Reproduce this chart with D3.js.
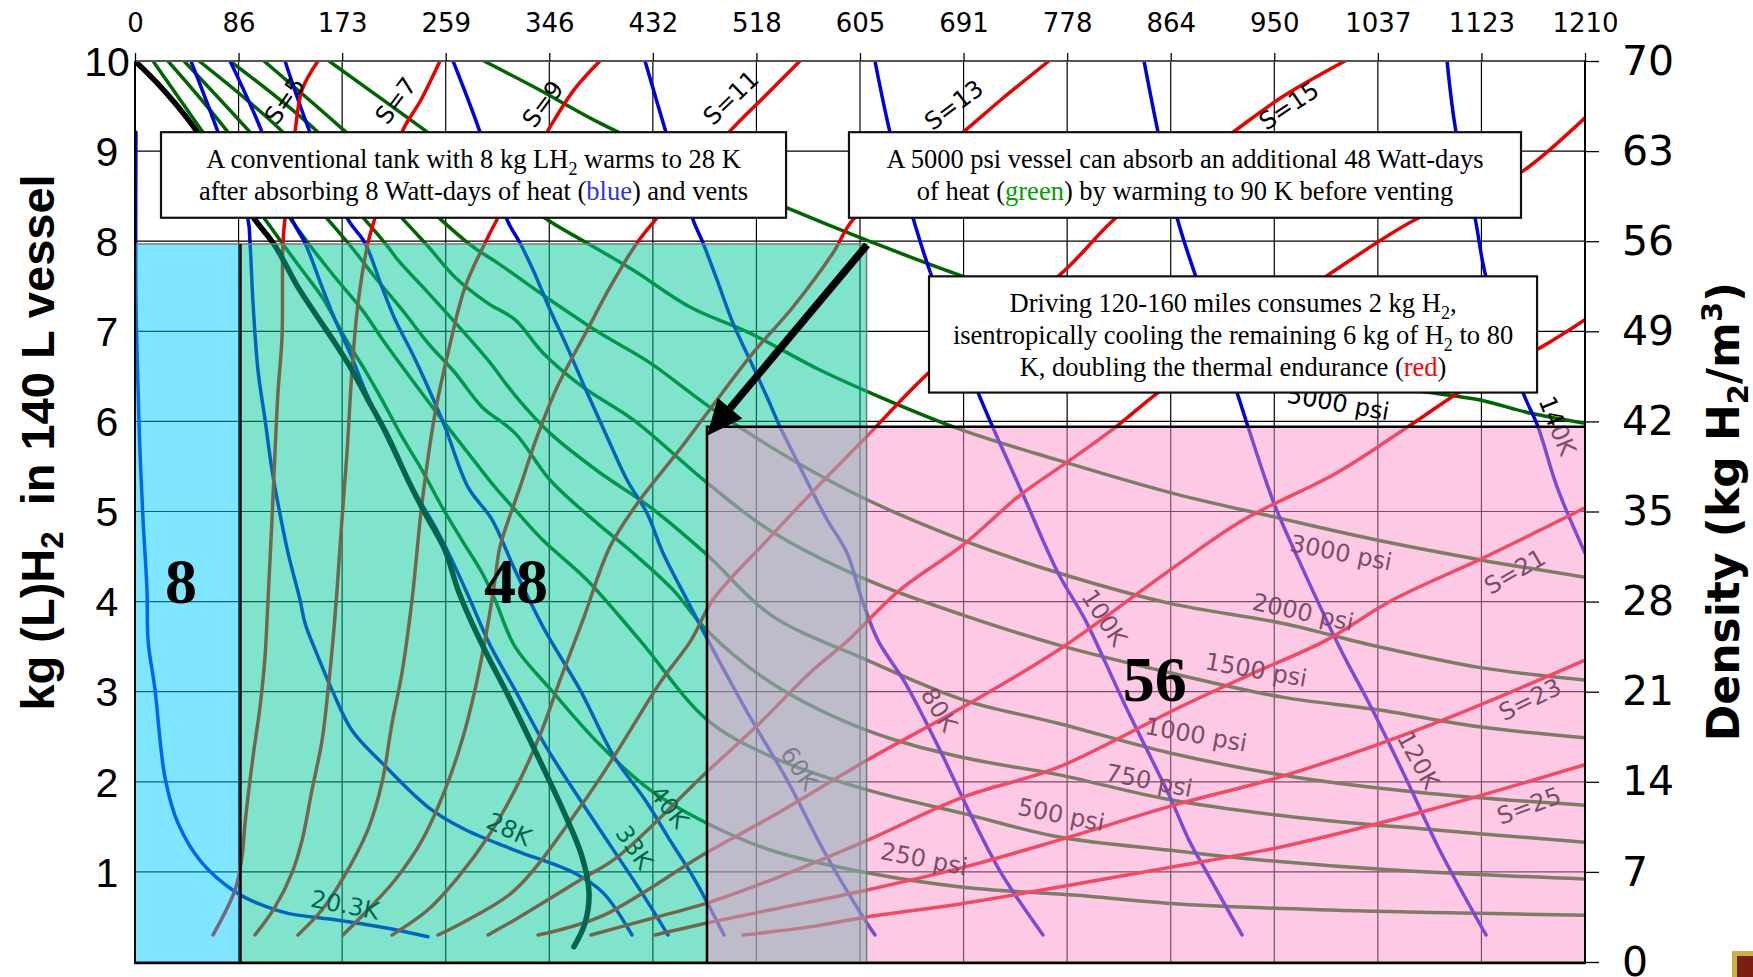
<!DOCTYPE html>
<html>
<head>
<meta charset="utf-8">
<script src="https://cdn.jsdelivr.net/npm/d3@7"></script>
<style>
  body { margin: 0; background: #fff; }
  svg { display: block; }
</style>
</head>
<body>
<div id="wrapper"></div>
<script>
// ---- axis values ----
const topTickLabels = ["0","86","173","259","346","432","518","605","691","778","864","950","1037","1123","1210"];
const kgTicks = [1,2,3,4,5,6,7,8,9,10];
const densityTicks = [0,7,14,21,28,35,42,49,56,63,70];

// ---- isotherms (blue) [x on top axis, kg] ----
const t20 = [[0.8,9.21],[0.8,7.35],[2.5,6.38],[4.2,5.65],[6.7,4.91],[10.0,4.13],[10.9,3.57],[16.7,3.02],[25.0,2.05],[35.9,1.54],[55.9,1.10],[83.5,0.78],[102.6,0.65],[127.7,0.54],[166.9,0.47],[208.6,0.38],[244.5,0.28]];
const t28 = [[46.7,10],[69.3,9.21],[94.3,8.24],[96.0,7.98],[98.5,7.31],[102.6,6.57],[108.5,6.02],[114.3,5.46],[119.3,5.09],[127.7,4.54],[137.7,4.02],[141.9,3.76],[152.7,3.39],[164.4,3.02],[181.1,2.57],[206.1,2.21],[244.5,1.72],[275.4,1.47],[317.1,1.24],[366.3,0.99],[390.5,0.77],[414.7,0.30]];
const t33 = [[79.3,10],[106.0,9.21],[131.0,8.24],[141.9,7.98],[156.1,7.49],[166.9,7.13],[179.4,6.76],[192.8,6.32],[206.1,5.94],[219.5,5.57],[233.7,5.21],[250.4,4.83],[264.5,4.46],[279.6,4.02],[296.2,3.52],[317.1,3.02],[342.1,2.41],[371.4,1.80],[396.4,1.30],[421.4,0.80],[444.8,0.30]];
const t40 = [[125.2,10],[146.0,9.21],[177.8,8.24],[191.9,7.98],[206.1,7.49],[217.0,7.13],[231.2,6.76],[244.5,6.38],[258.7,5.94],[277.9,5.27],[297.9,4.91],[317.1,4.35],[342.1,3.68],[371.4,3.02],[399.7,2.28],[425.6,1.80],[446.5,1.35],[467.3,0.91],[491.5,0.30]];
const t60 = [[265.4,10],[287.9,9.21],[310.4,8.24],[321.3,7.98],[332.2,7.68],[346.3,7.24],[360.5,6.83],[377.2,6.32],[393.9,5.83],[410.6,5.35],[427.3,4.98],[440.6,4.54],[460.6,4.02],[478.2,3.57],[511.5,2.76],[544.1,2.02],[575.8,1.21],[607.5,0.50],[617.5,0.30]];
const t80 = [[425.6,10],[443.1,9.21],[465.6,8.24],[474.0,7.98],[485.7,7.57],[499.0,7.09],[513.2,6.68],[527.4,6.27],[538.2,5.94],[549.1,5.65],[563.3,5.27],[577.5,4.91],[594.2,4.54],[606.7,4.02],[620.0,3.57],[642.6,3.10],[671.8,2.35],[696.8,1.65],[722.7,0.99],[757.7,0.30]];
const t100 = [[617.5,10],[630.0,9.21],[649.2,8.26],[665.1,7.60],[703.5,6.32],[719.3,5.83],[741.9,5.16],[770.2,4.32],[792.8,3.80],[826.2,2.85],[863.7,1.83],[879.6,1.35],[894.6,0.99],[923.8,0.30]];
const t120 = [[842.0,10],[853.7,9.21],[869.6,8.26],[885.4,7.60],[919.6,6.32],[928.8,5.94],[950.5,5.09],[972.2,4.43],[1006.4,3.46],[1031.4,2.83],[1062.3,1.99],[1087.3,1.28],[1127.4,0.30]];
const t140 = [[1094.9,10],[1102.4,9.21],[1118.2,8.26],[1127.4,7.60],[1158.3,6.32],[1170.8,5.94],[1186.7,5.27],[1210,4.54]];

// ---- saturation curve (black) ----
const saturation = [[0,10],[21.7,9.71],[46.7,9.31],[72.6,8.79],[100.1,8.24],[116.8,7.95],[136.0,7.49],[150.2,7.20],[166.9,6.87],[181.1,6.57],[194.4,6.24],[211.1,5.83],[227.8,5.35],[242.0,4.98],[258.7,4.57],[269.5,4.13],[281.2,3.76],[294.6,3.39],[312.1,2.94],[340.5,2.16],[359.7,1.61],[373.0,1.17],[378.9,0.77],[375.5,0.43],[366.3,0.17]];

// ---- isobars (green) ----
const p250 = [[15.0,10],[56.7,9.21],[122.7,7.98],[139.4,7.68],[156.1,7.38],[166.9,7.13],[177.8,6.87],[191.9,6.57],[206.1,6.24],[222.8,5.83],[239.5,5.46],[256.2,5.05],[272.9,4.68],[289.6,4.32],[300.4,4.02],[317.1,3.50],[347.2,3.02],[388.0,2.41],[429.8,1.91],[477.3,1.54],[530.7,1.24],[610.9,0.99],[691.0,0.83],[786.1,0.74],[863.7,0.65],[988.0,0.58],[1121.6,0.54],[1210,0.52]];
const p500 = [[27.5,10],[77.6,9.21],[144.4,7.98],[166.9,7.60],[189.4,7.24],[208.6,6.87],[231.2,6.46],[256.2,6.02],[277.9,5.65],[300.4,5.27],[317.1,5.02],[340.5,4.68],[377.2,4.24],[421.4,3.57],[477.3,2.69],[530.7,2.28],[610.9,1.91],[691.0,1.65],[770.2,1.39],[863.7,1.24],[925.5,1.15],[1049.8,1.02],[1210,0.92]];
const p750 = [[40.9,10],[96.0,9.21],[177.8,7.98],[200.3,7.60],[222.8,7.24],[244.5,6.87],[267.0,6.54],[289.6,6.16],[317.1,5.87],[346.3,5.35],[382.2,4.91],[415.6,4.54],[449.0,4.13],[477.3,3.68],[530.7,3.10],[610.9,2.57],[691.0,2.27],[770.2,2.08],[863.7,1.80],[966.4,1.61],[1080.7,1.47],[1210,1.33]];
const p1000 = [[53.4,10],[123.5,9.21],[208.6,7.98],[219.5,7.79],[244.5,7.43],[267.0,7.10],[294.6,6.68],[317.1,6.29],[346.3,5.87],[388.0,5.43],[429.8,5.05],[477.3,4.52],[530.7,3.85],[610.9,3.35],[691.0,2.91],[770.2,2.65],[863.7,2.32],[968.9,2.05],[1080.7,1.87],[1210,1.74]];
const p1500 = [[79.3,10],[152.7,9.21],[242.0,7.98],[267.0,7.60],[294.6,7.31],[317.1,7.13],[340.5,6.76],[373.9,6.38],[415.6,6.02],[477.3,5.32],[529.9,4.79],[610.9,4.24],[691.0,3.85],[770.2,3.52],[863.7,3.21],[957.2,2.94],[1037.3,2.80],[1121.6,2.61],[1210,2.49]];
const p2000 = [[107.6,10],[174.4,9.23],[277.9,7.98],[304.6,7.74],[346.3,7.35],[388.0,6.98],[429.8,6.65],[477.3,6.18],[521.6,5.79],[563.3,5.46],[610.9,5.13],[691.0,4.68],[770.2,4.32],[863.7,3.98],[957.2,3.76],[1037.3,3.50],[1121.6,3.27],[1210,3.13]];
const p3000 = [[161.9,10],[242.0,9.23],[343.8,8.24],[377.2,7.98],[415.6,7.68],[463.1,7.27],[513.2,6.98],[571.6,6.57],[621.7,6.27],[691.0,5.90],[770.2,5.57],[863.7,5.21],[950.5,4.94],[1037.3,4.68],[1124.1,4.46],[1210,4.27]];
const p5000 = [[291.2,10],[334.6,9.70],[388.0,9.31],[471.5,8.79],[544.1,8.37],[610.9,8.01],[691.0,7.61],[805.3,7.13],[930.5,6.68],[1013.9,6.46],[1080.7,6.32],[1121.6,6.24],[1165.0,6.09],[1210,5.98]];

// ---- isentropes (red) ----
const s5 = [[65.1,0.30],[83.5,0.80],[89.3,1.17],[91.8,1.54],[98.5,2.28],[104.3,2.83],[108.5,3.39],[111.0,4.02],[114.3,4.91],[116.8,5.65],[119.3,6.32],[122.7,6.94],[123.5,7.98],[126.8,8.46],[133.5,9.21],[139.4,9.68],[152.7,10]];
const s7 = [[100.1,0.30],[116.8,0.61],[131.0,0.99],[139.4,1.35],[147.7,1.91],[156.1,2.46],[161.1,3.02],[165.2,3.57],[168.6,4.13],[172.7,4.91],[176.9,5.65],[181.1,6.57],[186.1,7.31],[194.4,7.98],[200.3,8.26],[222.8,9.21],[238.7,9.57],[254.5,10]];
const s9 = [[136.0,0.30],[156.1,0.58],[172.7,0.91],[194.4,1.47],[206.1,1.99],[214.5,2.65],[222.8,3.21],[231.2,4.02],[239.5,5.09],[250.4,6.09],[261.2,6.76],[275.4,7.49],[292.1,7.98],[302.9,8.26],[343.8,9.21],[366.3,9.68],[388.0,10]];
const s11 = [[173.6,0.30],[194.4,0.58],[217.0,0.91],[239.5,1.35],[258.7,1.91],[272.9,2.46],[283.7,3.02],[294.6,3.76],[300.4,4.24],[304.6,4.61],[321.3,5.27],[335.5,5.83],[352.2,6.38],[377.2,7.01],[396.4,7.49],[418.9,7.98],[435.6,8.26],[495.7,9.21],[524.9,9.60],[554.9,10]];
const s13 = [[214.5,0.30],[244.5,0.58],[269.5,0.94],[294.6,1.39],[317.1,1.91],[338.0,2.52],[354.7,3.13],[373.9,3.80],[396.4,4.61],[421.4,5.13],[452.3,5.65],[477.3,6.09],[515.7,6.76],[549.1,7.27],[582.5,7.87],[599.2,8.24],[646.8,8.74],[691.0,9.21],[722.7,9.57],[762.7,10]];
const s15 = [[252.9,0.30],[277.9,0.47],[317.1,0.80],[371.4,1.72],[399.7,2.28],[438.1,3.10],[464.0,3.57],[482.3,4.02],[527.4,4.68],[569.1,5.27],[607.5,5.79],[658.4,6.49],[713.5,7.13],[770.2,7.61],[818.6,8.26],[867.9,8.74],[916.3,9.21],[957.2,9.60],[1009.7,10]];
const s17 = [[294.6,0.30],[317.1,0.47],[371.4,0.91],[403.1,1.17],[476.5,2.10],[518.2,2.61],[563.3,3.21],[595.0,3.57],[638.4,4.13],[691.0,4.63],[738.5,5.18],[780.3,5.57],[818.6,5.94],[853.7,6.32],[922.1,6.96],[993.9,7.61],[1071.5,8.26],[1114.1,8.46],[1158.3,8.78],[1210,9.37]];
const s19 = [[336.3,0.30],[388.0,0.50],[476.5,1.21],[530.7,1.61],[610.9,2.24],[691.0,2.83],[770.2,3.46],[863.7,4.35],[925.5,4.91],[1003.1,5.43],[1062.3,5.94],[1111.6,6.38],[1174.2,6.83],[1210,7.13]];
const s21 = [[380.5,0.30],[435.6,0.50],[476.5,0.65],[530.7,0.91],[610.9,1.35],[691.0,1.83],[770.2,2.16],[872.1,2.83],[930.5,3.19],[993.9,3.57],[1049.8,4.02],[1127.4,4.50],[1210,5.04]];
const s23 = [[433.9,0.30],[476.5,0.43],[530.7,0.58],[610.9,0.80],[691.0,1.05],[770.2,1.35],[872.1,1.76],[957.2,2.06],[1080.7,2.63],[1210,3.35]];
const s25 = [[507.4,0.30],[563.3,0.39],[610.9,0.50],[691.0,0.65],[770.2,0.83],[863.7,1.05],[957.2,1.28],[1080.7,1.69],[1210,2.19]];

// ---- curve labels [text, x, kg, angle] ----
const isothermLabels = [["20.3K",175.2,0.63,11],["28K",312.1,1.47,25],["33K",416.4,1.27,56],["40K",445.6,1.72,52],["60K",554.1,2.15,56],["80K",670.9,2.80,58],["100K",808.6,3.82,57],["120K",1070.7,2.24,61],["140K",1186.7,5.95,68]];
const isobarLabels = [["250 psi",658.4,1.14,11],["500 psi",772.8,1.63,11],["750 psi",846.2,2.01,11],["1000 psi",885.4,2.52,10],["1500 psi",935.5,3.24,10],["2000 psi",974.7,3.88,12],["3000 psi",1006.4,4.54,11],["5000 psi",1004,6.2,10]];
const isentropeLabels = [["S=5",125.2,9.56,-55],["S=7",217.8,9.56,-53],["S=9",340.5,9.52,-53],["S=11",497.4,9.59,-44],["S=13",683.5,9.51,-37],["S=15",963.0,9.50,-34],["S=21",1151.6,4.33,-30],["S=23",1164.1,2.91,-26],["S=25",1163.3,1.73,-20]];

// ---- shaded regions (drawn as translucent overlays) ----
const regions = [
  {x0:0,     x1:88,    y1:7.97, fill:"#01CDFF"},
  {x0:88,    x1:610.5, y1:7.97, fill:"#01C999"},
  {x0:477.3, x1:1210,  y1:5.94, fill:"#FB93C9"}
];
const regionLabels = [["8",38.4,3.98],["48",318,3.98],["56",851,2.9]];
const arrowFrom = [610.9,7.96], arrowTo = [477.3,5.84];

const notes = [
  {x0:21.7, x1:543.3, y0:9.21, y1:8.26, lines:[
    [8.81, [["A conventional tank with 8 kg LH"],["2","sub"],[" warms to 28 K"]]],
    [8.46, [["after absorbing 8 Watt-days of heat ("],["blue","#3434D0"],[") and vents"]]]]},
  {x0:595.8, x1:1156.6, y0:9.21, y1:8.26, lines:[
    [8.81, [["A 5000 psi vessel can absorb an additional 48 Watt-days"]]],
    [8.46, [["of heat ("],["green","#00A000"],[") by warming to 90 K before venting"]]]]},
  {x0:662.6, x1:1170, y0:7.61, y1:6.32, lines:[
    [7.21, [["Driving 120-160 miles consumes 2 kg H"],["2","sub"],[","]]],
    [6.86, [["isentropically cooling the remaining 6 kg of H"],["2","sub"],[" to 80"]]],
    [6.50, [["K, doubling the thermal endurance ("],["red","#FF0000"],[")"]]]]}
];

// ---- drawing ----
const W = 1753, H = 977;
const x = d3.scaleLinear().domain([0, 1210]).range([135, 1585]);
const y = d3.scaleLinear().domain([0, 10]).range([962, 61]);
const yR = d3.scaleLinear().domain([0, 70]).range([962, 61]);
const topTickVals = topTickLabels.map((d, i) => i * 1210 / 14);

const svg = d3.select("#wrapper").append("svg")
    .attr("width", W).attr("height", H);

svg.append("defs").append("clipPath").attr("id", "plot")
  .append("rect")
    .attr("x", x(0)).attr("y", y(10))
    .attr("width", x(1210) - x(0)).attr("height", y(0) - y(10));

// grid
const grid = svg.append("g").attr("stroke", "#000").attr("stroke-width", 1.2);
grid.selectAll("line.v").data(topTickVals).join("line").attr("class", "v")
    .attr("x1", d => x(d)).attr("x2", d => x(d))
    .attr("y1", y(10)).attr("y2", y(0));
grid.selectAll("line.h").data(d3.range(0, 11)).join("line").attr("class", "h")
    .attr("x1", x(0)).attr("x2", x(1210))
    .attr("y1", d => y(d)).attr("y2", d => y(d));

const line = d3.line()
    .x(d => x(d[0])).y(d => y(d[1]))
    .curve(d3.curveCatmullRom.alpha(0.5));

const curves = svg.append("g").attr("clip-path", "url(#plot)")
    .attr("fill", "none").attr("stroke-linecap", "round").attr("stroke-linejoin", "round");

function drawFamily(series, color, width) {
  curves.append("g").selectAll("path").data(series).join("path")
      .attr("d", line).attr("stroke", color).attr("stroke-width", width);
}
drawFamily([p250, p500, p750, p1000, p1500, p2000, p3000, p5000], "#006400", 3.5);
drawFamily([t20, t28, t33, t40, t60, t80, t100, t120, t140], "#0000DC", 3.5);
drawFamily([s5, s7, s9, s11, s13, s15, s17, s19, s21, s23, s25], "#E60000", 3.5);
drawFamily([saturation], "#000", 5.5);

// labels on the curves
const lab = svg.append("g")
    .attr("font-family", "'DejaVu Sans', Verdana, sans-serif")
    .attr("font-size", 24).attr("fill", "#000")
    .attr("text-anchor", "middle").attr("dominant-baseline", "central");
lab.selectAll("text").data([...isothermLabels, ...isobarLabels, ...isentropeLabels]).join("text")
    .attr("transform", d => `translate(${x(d[1])},${y(d[2])}) rotate(${d[3]})`)
    .text(d => d[0]);

// translucent region overlays
svg.append("g").selectAll("rect").data(regions).join("rect")
    .attr("x", d => x(d.x0)).attr("width", d => x(d.x1) - x(d.x0))
    .attr("y", d => y(d.y1)).attr("height", d => y(0) - y(d.y1))
    .attr("fill", d => d.fill).attr("fill-opacity", 0.5);

const edges = svg.append("g").attr("fill", "none");
edges.append("path")
    .attr("d", `M${x(0)},${y(7.97)}H${x(610.5)}V${y(0)}`)
    .attr("stroke", "#6f7f7a").attr("stroke-width", 1.5);
edges.append("line")
    .attr("x1", x(88)).attr("x2", x(88)).attr("y1", y(7.97)).attr("y2", y(0))
    .attr("stroke", "#000").attr("stroke-width", 2.5);
edges.append("path")
    .attr("d", `M${x(477.3)},${y(0)}V${y(5.94)}H${x(1210)}`)
    .attr("stroke", "#000").attr("stroke-width", 2.5);

// big region numbers
svg.append("g")
    .attr("font-family", "'Liberation Serif', 'Times New Roman', serif")
    .attr("font-weight", "bold").attr("font-size", 64).attr("text-anchor", "middle")
  .selectAll("text").data(regionLabels).join("text")
    .attr("x", d => x(d[1])).attr("y", d => y(d[2])).text(d => d[0]);

// plot frame
const frame = svg.append("g").attr("fill", "none");
frame.append("line").attr("x1", x(0)).attr("x2", x(1210)).attr("y1", y(10)).attr("y2", y(10))
    .attr("stroke", "#555").attr("stroke-width", 2);
frame.append("line").attr("x1", x(0)).attr("x2", x(1210)).attr("y1", y(0) + 1).attr("y2", y(0) + 1)
    .attr("stroke", "#000").attr("stroke-width", 2.5);
frame.append("line").attr("x1", x(0)).attr("x2", x(0)).attr("y1", y(10)).attr("y2", y(0) + 2)
    .attr("stroke", "#000").attr("stroke-width", 2);
frame.append("line").attr("x1", x(1210)).attr("x2", x(1210)).attr("y1", y(10)).attr("y2", y(0) + 2)
    .attr("stroke", "#000").attr("stroke-width", 2);

// annotation boxes
const serif = "'Liberation Serif', 'Times New Roman', serif";
const boxes = svg.append("g").selectAll("g").data(notes).join("g");
boxes.append("rect")
    .attr("x", d => x(d.x0)).attr("y", d => y(d.y0))
    .attr("width", d => x(d.x1) - x(d.x0)).attr("height", d => y(d.y1) - y(d.y0))
    .attr("fill", "#fff").attr("stroke", "#111").attr("stroke-width", 2.2);
boxes.each(function(d) {
  const g = d3.select(this);
  d.lines.forEach(([ky, segs]) => {
    const t = g.append("text")
        .attr("x", x((d.x0 + d.x1) / 2)).attr("y", y(ky))
        .attr("text-anchor", "middle")
        .attr("font-family", serif).attr("font-size", 26.5)
        .style("white-space", "pre");
    let shifted = false;
    segs.forEach(s => {
      const ts = t.append("tspan").text(s[0]);
      if (s[1] === "sub") {
        ts.attr("font-size", 18).attr("dy", 7);
        shifted = true;
      } else {
        if (shifted) { ts.attr("dy", -7); shifted = false; }
        if (s[1]) ts.attr("fill", s[1]);
      }
    });
  });
});

// arrow
const ax0 = x(arrowFrom[0]), ay0 = y(arrowFrom[1]);
const ax1 = x(arrowTo[0]), ay1 = y(arrowTo[1]);
const len = Math.hypot(ax1 - ax0, ay1 - ay0);
const ux = (ax1 - ax0) / len, uy = (ay1 - ay0) / len;
const bx = ax1 - ux * 36, by = ay1 - uy * 36;
svg.append("line")
    .attr("x1", ax0).attr("y1", ay0).attr("x2", bx).attr("y2", by)
    .attr("stroke", "#000").attr("stroke-width", 7.5);
svg.append("path")
    .attr("d", `M${ax1},${ay1}L${bx - uy * 16},${by + ux * 16}L${bx + uy * 16},${by - ux * 16}Z`)
    .attr("fill", "#000");

// top axis
const topAxis = svg.append("g").attr("transform", `translate(0,${y(10)})`)
    .call(d3.axisTop(x).tickValues(topTickVals).tickFormat((d, i) => topTickLabels[i])
      .tickSize(8).tickPadding(21));
topAxis.select(".domain").remove();
topAxis.selectAll("line").attr("stroke", "#000").attr("stroke-width", 1.3);
topAxis.selectAll("text").attr("font-family", "'DejaVu Sans', Verdana, sans-serif")
    .attr("font-size", 26).attr("fill", "#000");

// right axis
const rightAxis = svg.append("g").attr("transform", `translate(${x(1210)},0)`)
    .call(d3.axisRight(yR).tickValues(densityTicks).tickSize(14).tickPadding(23));
rightAxis.select(".domain").remove();
rightAxis.selectAll("line").attr("stroke", "#000").attr("stroke-width", 1.3);
rightAxis.selectAll("text").attr("font-family", "'DejaVu Sans', Verdana, sans-serif")
    .attr("font-size", 41).attr("fill", "#000");

// left tick labels
svg.append("g")
    .attr("font-family", "'Liberation Sans', Arial, sans-serif").attr("font-size", 41)
    .attr("text-anchor", "middle")
  .selectAll("text").data(kgTicks).join("text")
    .attr("x", 107).attr("y", d => y(d)).attr("dy", "0.36em").text(d => d);

// axis titles
const leftTitle = svg.append("text")
    .attr("transform", `translate(54,${(y(0) + y(10)) / 2 - 69}) rotate(-90)`)
    .attr("text-anchor", "middle")
    .attr("font-family", "'Liberation Sans', Arial, sans-serif")
    .attr("font-weight", "bold").attr("font-size", 47)
    .style("white-space", "pre");
leftTitle.append("tspan").text("kg (L)H");
leftTitle.append("tspan").attr("font-size", 31).attr("dy", 9).text("2");
leftTitle.append("tspan").attr("dy", -9).text("  in 140 L vessel");

const rightTitle = svg.append("text")
    .attr("transform", `translate(1739,${(y(0) + y(10)) / 2}) rotate(-90)`)
    .attr("text-anchor", "middle")
    .attr("font-family", "'DejaVu Sans', Verdana, sans-serif")
    .attr("font-weight", "bold").attr("font-size", 44);
rightTitle.append("tspan").text("Density (kg H");
rightTitle.append("tspan").attr("font-size", 29).attr("dy", 9).text("2");
rightTitle.append("tspan").attr("dy", -9).text("/m");
rightTitle.append("tspan").attr("font-size", 29).attr("dy", -17).text("3");
rightTitle.append("tspan").attr("dy", 17).text(")");

// small slide icon in the bottom-right corner
svg.append("rect").attr("x", W - 21).attr("y", H - 26).attr("width", 21).attr("height", 26)
    .attr("fill", "#C9B347");
svg.append("rect").attr("x", W - 16).attr("y", H - 21).attr("width", 16).attr("height", 21)
    .attr("fill", "#7A1F12");
</script>
</body>
</html>
